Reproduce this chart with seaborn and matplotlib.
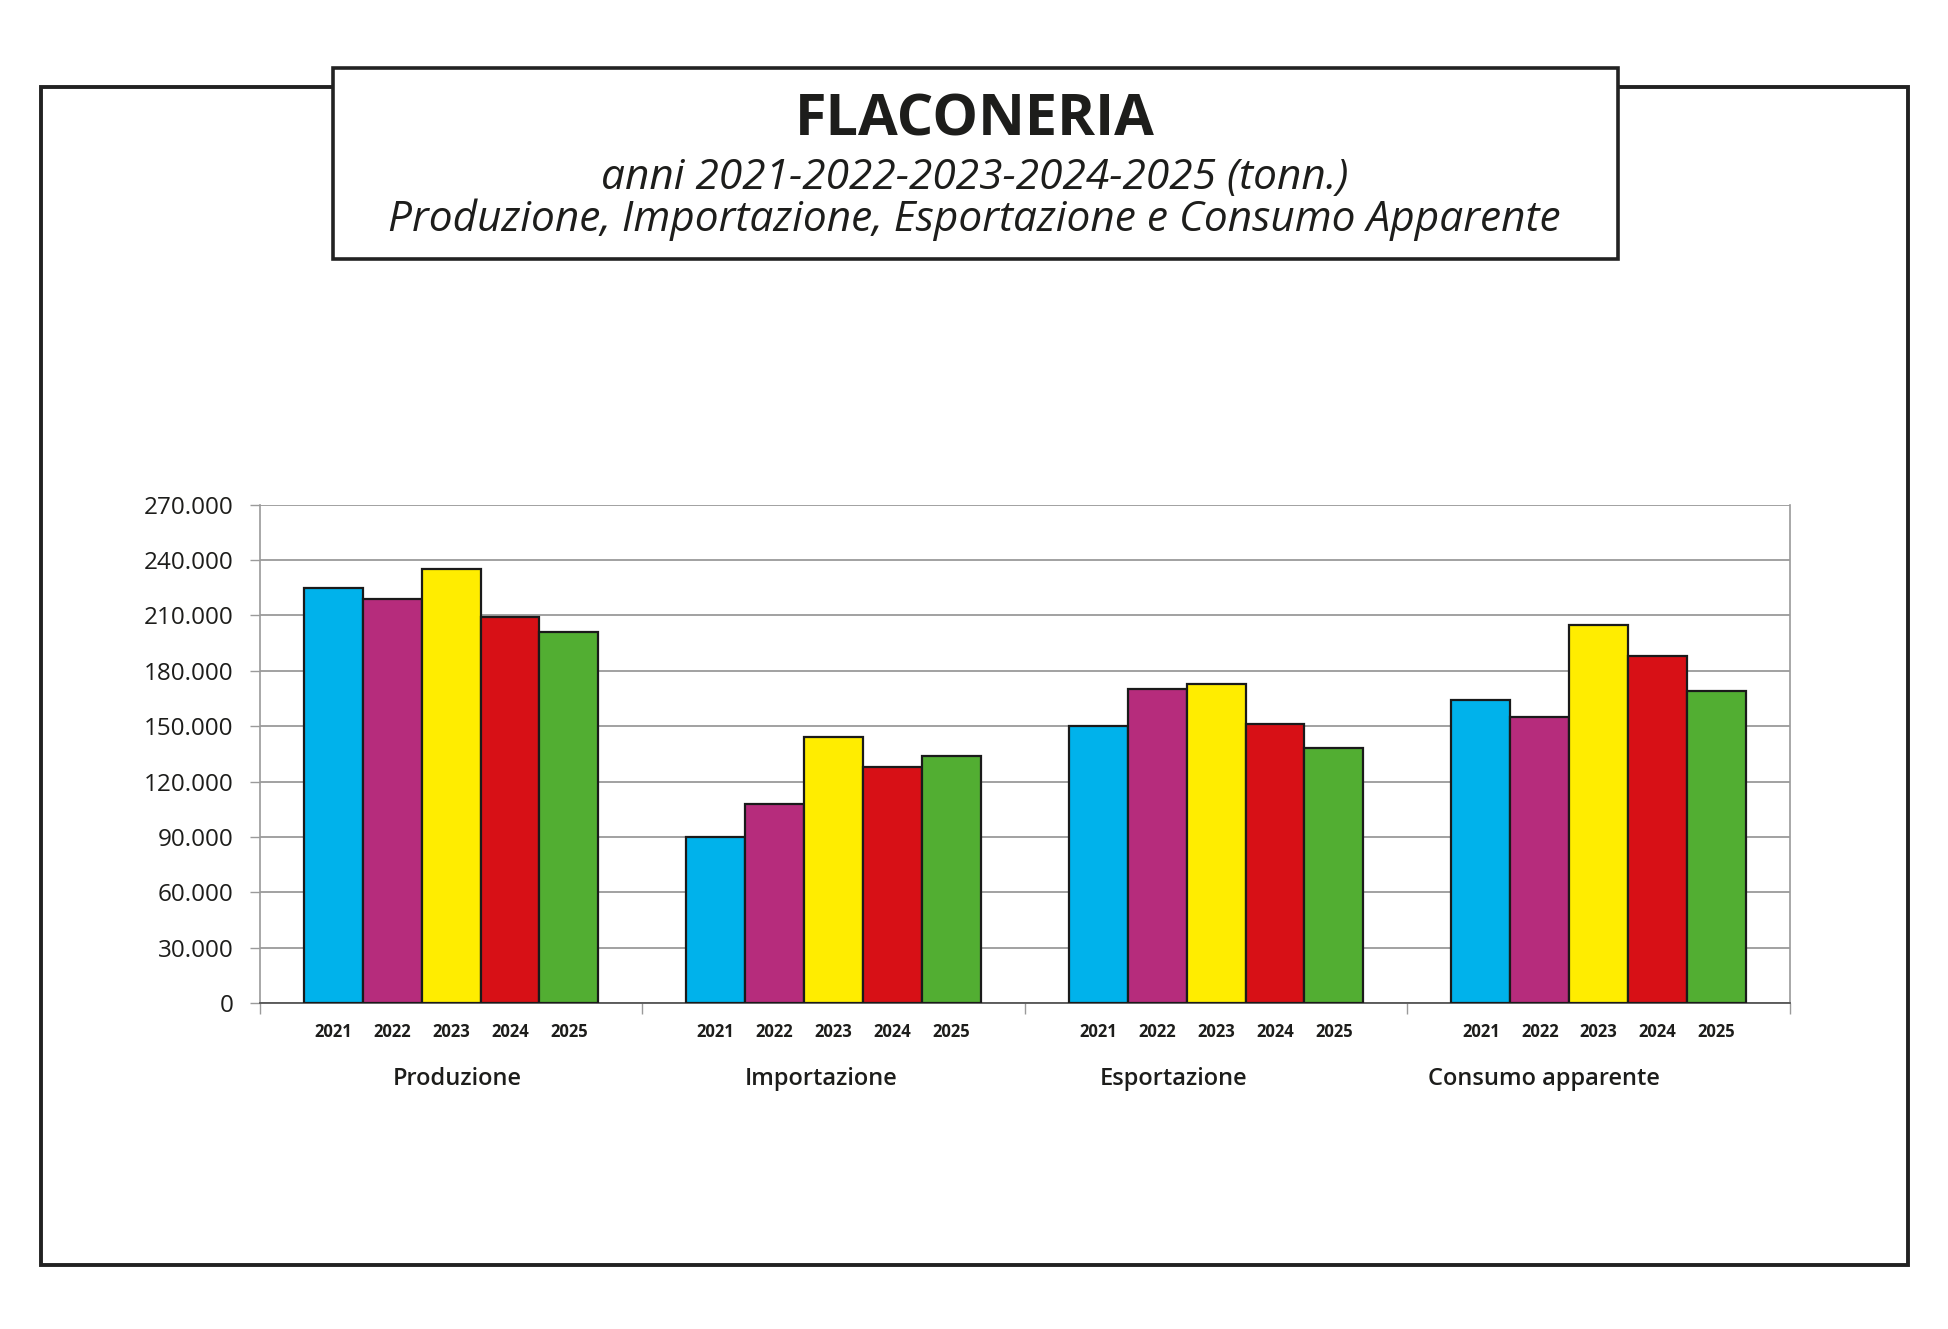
import matplotlib
matplotlib.use("Agg")
import matplotlib.pyplot as plt
from matplotlib.patches import Rectangle
from matplotlib.ticker import FuncFormatter, FixedLocator
import matplotlib.transforms as mtransforms
import seaborn as sns
import pandas as pd

# ---------------- data ----------------
categories = ["Produzione", "Importazione", "Esportazione", "Consumo apparente"]
years = ["2021", "2022", "2023", "2024", "2025"]
produzione = [225000, 219000, 235000, 209000, 201000]
importazione = [90000, 108000, 144000, 128000, 134000]
esportazione = [150000, 170000, 173000, 151000, 138000]
consumo = [164000, 155000, 205000, 188000, 169000]
series = [produzione, importazione, esportazione, consumo]
yticks = [0, 30000, 60000, 90000, 120000, 150000, 180000, 210000, 240000, 270000]
colors = ["#00B2EB", "#B62C7C", "#FFED00", "#D71016", "#52AE32"]
title = "FLACONERIA"
subtitle1 = "anni 2021-2022-2023-2024-2025 (tonn.)"
subtitle2 = "Produzione, Importazione, Esportazione e Consumo Apparente"

rows = []
for cat, vals in zip(categories, series):
    for yr, v in zip(years, vals):
        rows.append({"categoria": cat, "anno": yr, "valore": v})
df = pd.DataFrame(rows)

# ---------------- style ----------------
sns.set_theme(style="white")
FONT = ["Open Sans", "DejaVu Sans"]
plt.rcParams["font.family"] = FONT
TXT = "#1d1d1b"

W, H = 1949, 1329
S = W / 1568.0
fig = plt.figure(figsize=(W / 100, H / 100), dpi=100)
fig.patch.set_facecolor("white")

def fx(px):
    return px * S / W

def fy(py):
    return 1 - py * S / H

# outer frame
fig.patches.append(Rectangle((fx(33), fy(1018)), fx(1535) - fx(33), fy(70) - fy(1018),
                             transform=fig.transFigure, fill=False, edgecolor="#222222",
                             linewidth=2.8, zorder=1))
# title box
fig.patches.append(Rectangle((fx(268), fy(208)), fx(1302) - fx(268), fy(55) - fy(208),
                             transform=fig.transFigure, facecolor="white", edgecolor="#222222",
                             linewidth=2.6, zorder=2))
fig.text(fx(784), fy(97), title, ha="center", va="center", fontsize=41.5,
         fontweight="bold", color=TXT, zorder=3)
fig.text(fx(784), fy(143), subtitle1, ha="center", va="center", fontsize=30.5,
         fontstyle="italic", color=TXT, zorder=3)
fig.text(fx(784), fy(177), subtitle2, ha="center", va="center", fontsize=30.5,
         fontstyle="italic", color=TXT, zorder=3)

# axes
left, right, top, bottom = 209, 1440, 406, 807
ax = fig.add_axes([fx(left), fy(bottom), fx(right) - fx(left), fy(top) - fy(bottom)])
ax.set_facecolor("white")

sns.barplot(data=df, x="categoria", y="valore", hue="anno", order=categories,
            hue_order=years, palette=colors, edgecolor="#1a1a1a", linewidth=1.6,
            width=0.77, saturation=1, legend=False, ax=ax, zorder=3)

ax.set_xlim(-0.5, len(categories) - 0.5)
ax.set_ylim(0, yticks[-1])
ax.yaxis.set_major_locator(FixedLocator(yticks))
ax.yaxis.set_major_formatter(FuncFormatter(lambda v, p: f"{int(v):,}".replace(",", ".")))
ax.grid(axis="y", color="#9a9a9a", linewidth=1.3, zorder=0)
ax.set_axisbelow(True)
ax.tick_params(axis="y", length=7, width=1.0, color="#9a9a9a", pad=12,
               labelsize=17.5, labelcolor=TXT, left=True)

# group boundary ticks on x
bounds = [i - 0.5 for i in range(len(categories) + 1)]
ax.set_xticks(bounds)
ax.set_xticklabels([""] * len(bounds))
ax.tick_params(axis="x", length=8, width=1.0, color="#9a9a9a", bottom=True)
ax.set_xlabel("")
ax.set_ylabel("")

for s in ["left", "right"]:
    ax.spines[s].set_color("#9a9a9a")
    ax.spines[s].set_linewidth(1.2)
ax.spines["top"].set_visible(False)
ax.spines["bottom"].set_color("#555555")
ax.spines["bottom"].set_linewidth(1.3)

axh = bottom - top
def ay(py):
    return (bottom - py) / axh

trans = mtransforms.blended_transform_factory(ax.transData, ax.transAxes)
for j, cont in enumerate(ax.containers):
    for bar in cont:
        cx = bar.get_x() + bar.get_width() / 2
        ax.text(cx, ay(830), years[j], transform=trans, ha="center", va="center",
                fontsize=12, fontweight="bold", color=TXT)

label_offsets = [0.016, -0.032, -0.11, -0.143]
for i, cat in enumerate(categories):
    ax.text(i + label_offsets[i], ay(868), cat, transform=trans, ha="center",
            va="center", fontsize=17, fontweight="semibold", color=TXT)

fig.savefig("out.png", dpi=100, facecolor="white")
